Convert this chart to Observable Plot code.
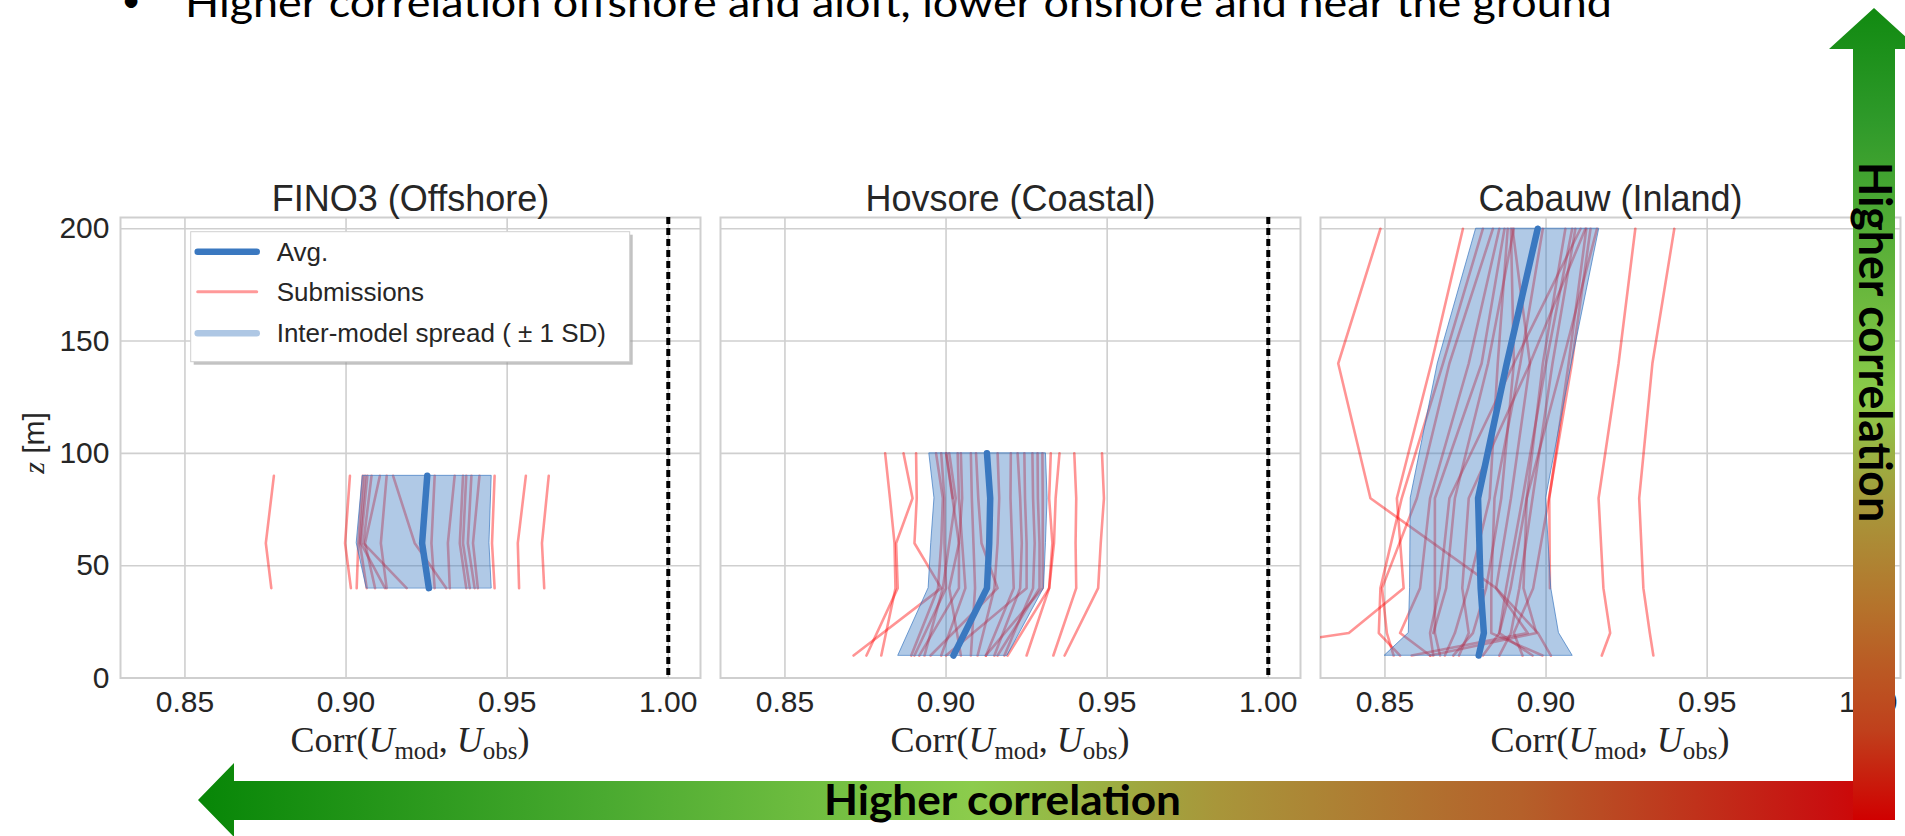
<!DOCTYPE html>
<html><head><meta charset="utf-8">
<script src="https://cdn.jsdelivr.net/npm/d3@7"></script>
<script src="https://cdn.jsdelivr.net/npm/@observablehq/plot@0.6"></script>
<style>
html,body{margin:0;padding:0;background:#fff;overflow:hidden;}
#wrap{position:relative;width:1905px;height:836px;overflow:hidden;}
#wrap svg{position:absolute;left:0;top:0;}
</style></head><body><div id="wrap"></div>
<script>
const sites = ["FINO3 (Offshore)", "Hovsore (Coastal)", "Cabauw (Inland)"];
const xTicks = [0.85, 0.90, 0.95, 1.00];
const yTicks = [0, 50, 100, 150, 200];
const legendLabels = ["Avg.", "Submissions", "Inter-model spread ( \u00b1 1 SD)"];
const topText = "Higher correlation offshore and aloft, lower onshore and near the ground";
const arrowText = "Higher correlation";

// FINO3
const finoHeights = [40, 60, 90];
const finoSubs = [
 [0.8768, 0.8751, 0.8776],
 [0.9015, 0.8997, 0.9012],
 [0.9033, 0.9038, 0.9052],
 [0.9064, 0.9043, 0.9059],
 [0.9121, 0.9046, 0.9066],
 [0.9188, 0.9054, 0.9079],
 [0.9090, 0.9059, 0.9105],
 [0.9126, 0.9108, 0.9126],
 [0.9311, 0.9213, 0.9146],
 [0.9275, 0.9265, 0.9275],
 [0.9322, 0.9316, 0.9337],
 [0.9373, 0.9353, 0.9363],
 [0.9384, 0.9363, 0.9373],
 [0.9399, 0.9378, 0.9389],
 [0.9409, 0.9394, 0.9414],
 [0.9461, 0.9453, 0.9461],
 [0.9537, 0.9533, 0.9558],
 [0.9615, 0.9608, 0.9629]
];
const finoAvg = [0.9257, 0.9236, 0.9252];
const finoLow = [0.9064, 0.9033, 0.9052];
const finoHigh = [0.9452, 0.9445, 0.9452];

// Hovsore
const hovHeights = [10, 40, 60, 80, 100];
const hovSubs = [
 [0.8799, 0.8843, 0.8840, 0.8826, 0.8811],
 [0.8753, 0.8850, 0.8845, 0.8896, 0.8868],
 [0.8713, 0.8985, 0.8902, 0.8909, 0.8907],
 [0.8892, 0.8975, 0.8985, 0.8990, 0.8969],
 [0.8902, 0.9000, 0.8995, 0.8995, 0.8985],
 [0.8917, 0.9040, 0.9040, 0.9020, 0.9000],
 [0.8933, 0.8990, 0.9010, 0.9030, 0.9010],
 [null, null, null, 0.9021, 0.9001],
 [0.8985, 0.9060, 0.9050, 0.9040, 0.9036],
 [0.9046, 0.9010, 0.9040, 0.9050, 0.9046],
 [0.9077, 0.9090, 0.9085, 0.9080, 0.9077],
 [0.8952, 0.9160, 0.9110, 0.9100, 0.9093],
 [0.9098, 0.9150, 0.9160, 0.9165, 0.9160],
 [0.9124, 0.9210, 0.9205, 0.9200, 0.9201],
 [0.9150, 0.9230, 0.9235, 0.9230, 0.9222],
 [0.9000, 0.9250, 0.9250, 0.9245, 0.9243],
 [0.9181, 0.9270, 0.9275, 0.9270, 0.9268],
 [0.9160, 0.9290, 0.9290, 0.9285, 0.9284],
 [0.9123, 0.9300, 0.9300, 0.9300, 0.9299],
 [0.9191, 0.9320, 0.9330, 0.9320, 0.9325],
 [0.9250, 0.9320, 0.9335, 0.9340, 0.9352],
 [0.9333, 0.9404, 0.9402, 0.9404, 0.9398],
 [0.9368, 0.9472, 0.9480, 0.9490, 0.9484]
];
const hovAvg = [0.9023, 0.9127, 0.9134, 0.9137, 0.9127];
const hovLow = [0.8852, 0.8946, 0.8954, 0.8964, 0.8948];
const hovHigh = [0.9191, 0.9304, 0.9310, 0.9315, 0.9310];

// Cabauw
const cabHeights = [10, 20, 40, 80, 140, 200];
const cabSubs = [
 [0.9015, 0.8975, 0.8845, 0.8455, 0.8355, 0.8486],
 [0.7900, 0.8388, 0.8558, 0.8537, 0.8644, 0.8742],
 [0.8547, 0.8481, 0.8486, 0.8552, 0.8680, 0.8804],
 [0.8527, 0.8506, 0.8491, 0.8599, 0.8700, 0.8835],
 [0.8640, 0.8547, 0.8609, 0.8640, 0.8760, 0.8855],
 [0.8671, 0.8655, 0.8655, 0.8655, 0.8800, 0.8871],
 [0.8686, 0.8717, 0.8758, 0.8825, 0.8850, 0.8881],
 [0.8712, 0.8773, 0.8814, 0.8861, 0.8900, 0.8891],
 [0.8583, 0.8943, 0.8845, 0.8891, 0.8950, 0.8896],
 [0.8804, 0.8855, 0.8876, 0.8927, 0.9000, 0.9081],
 [0.8855, 0.8891, 0.8917, 0.8958, 0.9020, 0.9091],
 [0.8650, 0.8640, 0.8670, 0.8700, 0.8900, 0.9107],
 [0.8730, 0.8760, 0.8740, 0.8760, 0.8950, 0.9122],
 [0.8927, 0.8900, 0.8960, 0.9009, 0.9080, 0.9138],
 [0.8958, 0.8855, 0.8890, 0.8940, 0.9050, 0.9158],
 [null, null, 0.9012, 0.9010, 0.9070, 0.9125],
 [null, 0.8650, 0.8690, 0.8717, 0.8820, 0.8900],
 [0.8640, 0.8970, 0.8930, 0.8940, 0.8990, 0.9060],
 [0.8989, 0.8830, 0.8830, 0.8840, 0.8920, 0.8990],
 [0.9173, 0.9199, 0.9178, 0.9163, 0.9225, 0.9277],
 [0.9333, 0.9322, 0.9302, 0.9289, 0.9330, 0.9398]
];
const cabAvg = [0.8791, 0.8807, 0.8797, 0.8789, 0.8878, 0.8974];
const cabLow = [0.8500, 0.8574, 0.8578, 0.8580, 0.8664, 0.8783];
const cabHigh = [0.9082, 0.9040, 0.9016, 0.9000, 0.9080, 0.9165];

// tidy tables
const subRows = [], avgRows = [], bandRows = [];
function addSite(site, heights, subs, avg, lo, hi) {
  subs.forEach((vals, i) => vals.forEach((v, j) => {
    if (Number.isFinite(v)) subRows.push({site, id: site + "#" + i, h: heights[j], v});
  }));
  heights.forEach((h, j) => {
    avgRows.push({site, h, v: avg[j]});
    bandRows.push({site, h, lo: lo[j], hi: hi[j]});
  });
}
addSite(sites[0], finoHeights, finoSubs, finoAvg, finoLow, finoHigh);
addSite(sites[1], hovHeights, hovSubs, hovAvg, hovLow, hovHigh);
addSite(sites[2], cabHeights, cabSubs, cabAvg, cabLow, cabHigh);

const M = {top: 217, bottom: 158.5, left: 120, right: 5};
const W = 1905, H = 836;
const blue = "#3a78c0";
const grid = "#cfcfcf";
const ink = "#262626";

const plot = Plot.plot({
  width: W, height: H,
  marginTop: M.top, marginBottom: M.bottom, marginLeft: M.left, marginRight: M.right,
  style: {background: "transparent", fontFamily: "'Liberation Sans', Arial, sans-serif", fontSize: "30px", color: ink, overflow: "visible"},
  x: {domain: [0.83, 1.01], label: null},
  y: {domain: [0, 205], label: null},
  fx: {domain: sites, paddingInner: 20 / 600, paddingOuter: 0, round: false, axis: null, label: null},
  marks: [
    Plot.gridX(xTicks, {stroke: grid, strokeOpacity: 1, strokeWidth: 1.6}),
    Plot.gridY(yTicks, {stroke: grid, strokeOpacity: 1, strokeWidth: 1.6}),
    Plot.frame({stroke: grid, strokeWidth: 2}),
    Plot.axisX(xTicks, {tickSize: 0, tickPadding: 13, tickFormat: d => d.toFixed(2), label: null, fontSize: 30, fill: ink}),
    Plot.axisY(yTicks, {tickSize: 0, tickPadding: 11, label: null, fontSize: 30, fill: ink}),
    Plot.line(subRows, {fx: "site", x: "v", y: "h", z: "id", stroke: "red", strokeOpacity: 0.42, strokeWidth: 2.6, clip: true}),
    Plot.areaX(bandRows, {fx: "site", y: "h", x1: "lo", x2: "hi", fill: blue, fillOpacity: 0.4, stroke: blue, strokeOpacity: 0.7, strokeWidth: 1}),
    Plot.line(avgRows, {fx: "site", x: "v", y: "h", stroke: blue, strokeWidth: 6.5, strokeLinecap: "round", clip: true}),
    Plot.ruleX([1.0], {stroke: "black", strokeWidth: 4, strokeDasharray: "7,4"}),
    Plot.text(sites, {fx: d => d, text: d => d, frameAnchor: "top", lineAnchor: "bottom", dy: -7, fontSize: 36, fill: ink})
  ]
});
document.getElementById("wrap").appendChild(plot);

const svg = d3.select(plot);
const fxs = plot.scale("fx");
const bw = fxs.bandwidth ?? 580;
const bandStart = s => fxs.apply(s);

// x-axis labels: Corr(U_mod, U_obs)
sites.forEach(s => {
  const cx = bandStart(s) + bw / 2;
  const t = svg.append("text").attr("x", cx).attr("y", 752).attr("text-anchor", "middle")
    .attr("font-family", "'Liberation Serif', 'DejaVu Serif', serif").attr("font-size", 36).attr("fill", ink);
  t.append("tspan").text("Corr(");
  t.append("tspan").attr("font-style", "italic").text("U");
  t.append("tspan").attr("font-size", 25).attr("dy", 7).text("mod");
  t.append("tspan").attr("dy", -7).text(", ");
  t.append("tspan").attr("font-style", "italic").text("U");
  t.append("tspan").attr("font-size", 25).attr("dy", 7).text("obs");
  t.append("tspan").attr("dy", -7).text(")");
});

// y label
const yl = svg.append("text").attr("transform", "translate(44,443) rotate(-90)").attr("text-anchor", "middle")
  .attr("font-size", 30).attr("fill", ink);
yl.append("tspan").attr("font-family", "'Liberation Serif', serif").attr("font-style", "italic").text("z");
yl.append("tspan").attr("font-family", "'Liberation Sans', Arial, sans-serif").text(" [m]");

// legend (first panel)
const lx = bandStart(sites[0]) + 70.7, ly = M.top + 14.7, lw = 439, lh = 130;
const lg = svg.append("g").attr("font-family", "'Liberation Sans', Arial, sans-serif").attr("font-size", 26)
  .attr("fill", ink).attr("text-anchor", "start");
lg.append("rect").attr("x", lx + 3).attr("y", ly + 3).attr("width", lw).attr("height", lh).attr("fill", "#9a9a9a").attr("opacity", 0.6);
lg.append("rect").attr("x", lx).attr("y", ly).attr("width", lw).attr("height", lh).attr("fill", "white").attr("stroke", "#d0d0d0").attr("stroke-width", 1);
const entries = [
  {label: legendLabels[0], color: blue, op: 1, w: 6.5, dy: 20},
  {label: legendLabels[1], color: "red", op: 0.4, w: 3, dy: 60},
  {label: legendLabels[2], color: "#aec7e4", op: 1, w: 6.5, dy: 101.6}
];
entries.forEach(e => {
  lg.append("line").attr("x1", lx + 7).attr("x2", lx + 66).attr("y1", ly + e.dy).attr("y2", ly + e.dy)
    .attr("stroke", e.color).attr("stroke-opacity", e.op).attr("stroke-width", e.w).attr("stroke-linecap", "round");
  lg.append("text").attr("x", lx + 86).attr("y", ly + e.dy + 9).attr("text-anchor", "start").text(e.label);
});

// top bullet text (cut off by the top edge)
const tt = svg.append("g").attr("font-family", "Lato, 'Open Sans', sans-serif").attr("fill", "black").attr("text-anchor", "start");
tt.append("text").attr("x", 131).attr("y", 12).attr("font-size", 34).attr("text-anchor", "middle").text("\u2022");
tt.append("text").attr("x", 185).attr("y", 17).attr("font-size", 40).attr("text-anchor", "start")
  .attr("textLength", 1427).attr("lengthAdjust", "spacingAndGlyphs").text(topText);

// gradient arrows
const defs = svg.append("defs");
const gh = defs.append("linearGradient").attr("id", "gh").attr("gradientUnits", "userSpaceOnUse")
  .attr("x1", 198).attr("x2", 1895).attr("y1", 0).attr("y2", 0);
[[0, "#078607"], [0.24, "#4aaa30"], [0.456, "#8ccc4c"], [0.6, "#a8963a"], [0.78, "#b5602a"], [0.957, "#c81010"], [1, "#d00000"]]
  .forEach(([o, c]) => gh.append("stop").attr("offset", o).attr("stop-color", c));
const gv = defs.append("linearGradient").attr("id", "gv").attr("gradientUnits", "userSpaceOnUse")
  .attr("x1", 0).attr("x2", 0).attr("y1", 8).attr("y2", 820);
[[0, "#118a11"], [0.14, "#2f9a2a"], [0.36, "#6cb93e"], [0.48, "#8ccc4a"], [0.62, "#a8963a"], [0.74, "#b5722b"], [0.89, "#c0401c"], [1, "#d00000"]]
  .forEach(([o, c]) => gv.append("stop").attr("offset", o).attr("stop-color", c));

svg.append("path").attr("d", "M198,800 L234,763 L234,781 L1895,781 L1895,820 L234,820 L234,837 Z").attr("fill", "url(#gh)");
svg.append("path").attr("d", "M1874,8 L1919,49 L1895,49 L1895,820 L1853,820 L1853,49 L1829,49 Z").attr("fill", "url(#gv)");

svg.append("text").attr("x", 824).attr("y", 815).attr("text-anchor", "start").attr("font-family", "Lato, 'Open Sans', sans-serif").attr("font-weight", 700)
  .attr("font-size", 42).attr("textLength", 357).attr("lengthAdjust", "spacingAndGlyphs").attr("fill", "black").text(arrowText);
svg.append("text").attr("transform", "translate(1859,162) rotate(90)").attr("text-anchor", "start").attr("font-family", "Lato, 'Open Sans', sans-serif").attr("font-weight", 700)
  .attr("font-size", 46).attr("textLength", 360).attr("lengthAdjust", "spacingAndGlyphs").attr("fill", "black").text(arrowText);
</script>
</body></html>
